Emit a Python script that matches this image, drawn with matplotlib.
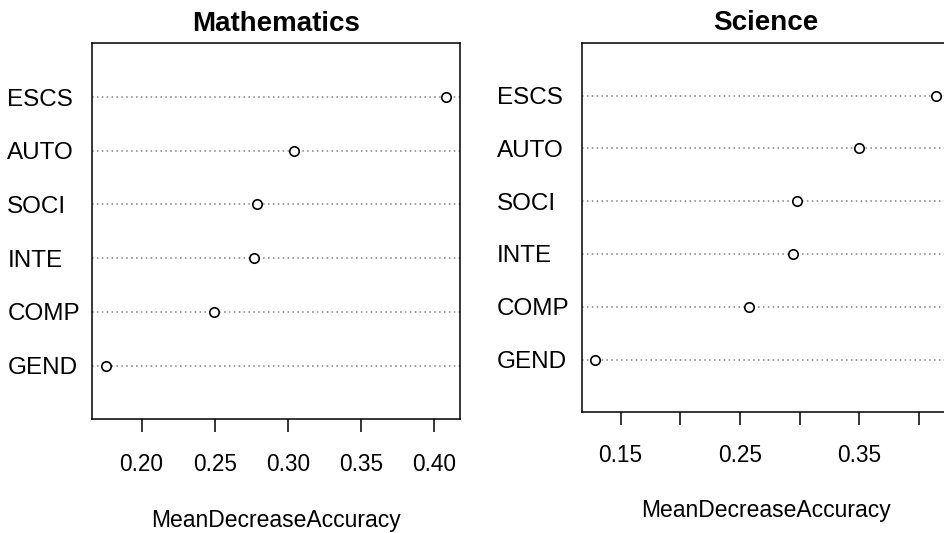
import matplotlib
matplotlib.use("Agg")
import matplotlib.pyplot as plt

plt.rcParams['font.family'] = ['Liberation Sans', 'DejaVu Sans']

# variables listed bottom to top, as in the dotchart
variables = ['GEND', 'COMP', 'INTE', 'SOCI', 'AUTO', 'ESCS']
math_acc = [0.1755, 0.2497, 0.2771, 0.2792, 0.3040, 0.4082]
sci_acc = [0.1288, 0.2576, 0.2941, 0.2980, 0.3500, 0.4145]

math_ticks = [0.20, 0.25, 0.30, 0.35, 0.40]
math_labels = ['0.20', '0.25', '0.30', '0.35', '0.40']
sci_ticks = [0.15, 0.20, 0.25, 0.30, 0.35, 0.40]
sci_labels = ['0.15', '', '0.25', '', '0.35', '']

W, H = 945, 533
fig = plt.figure(figsize=(W / 100, H / 100), dpi=100)


def px_axes(left, top, right, bottom):
    return fig.add_axes([left / W, 1 - bottom / H, (right - left) / W, (bottom - top) / H])


def dotchart(ax, vals, title, ticks, labels, tick_pad, title_pad):
    y = list(range(1, len(vals) + 1))
    for yy in y:
        ax.axhline(yy, color='#808080', lw=1.1, ls=(0, (1, 2.2)), zorder=1)
    ax.plot(vals, y, 'o', ms=6.8, mfc='white', mec='black', mew=1.2, zorder=3)
    ax.margins(x=0.04)
    ax.set_ylim(0, len(vals) + 1)
    ax.set_yticks(y)
    ax.set_yticklabels(variables, fontsize=17.5, ha='left')
    ax.tick_params(axis='y', length=0, pad=61)
    ax.set_xticks(ticks)
    ax.set_xticklabels(labels, fontsize=16.3)
    ax.tick_params(axis='x', length=9.5, width=1.1, pad=tick_pad)
    for s in ax.spines.values():
        s.set_linewidth(1.1)
    ax.set_title(title, fontsize=20, fontweight='bold', pad=title_pad)


ax1 = px_axes(92, 43.3, 460, 419.3)
dotchart(ax1, math_acc, 'Mathematics', math_ticks, math_labels, 15, 9)

ax2 = px_axes(581.7, 42.7, 950, 412.3)
dotchart(ax2, sci_acc, 'Science', sci_ticks, sci_labels, 13, 9.5)

fig.text(276 / W, 1 - 526.7 / H, 'MeanDecreaseAccuracy', fontsize=16.5,
         ha='center', va='baseline')
fig.text(765.9 / W, 1 - 516.7 / H, 'MeanDecreaseAccuracy', fontsize=16.5,
         ha='center', va='baseline')

fig.savefig('out.png', dpi=100)
